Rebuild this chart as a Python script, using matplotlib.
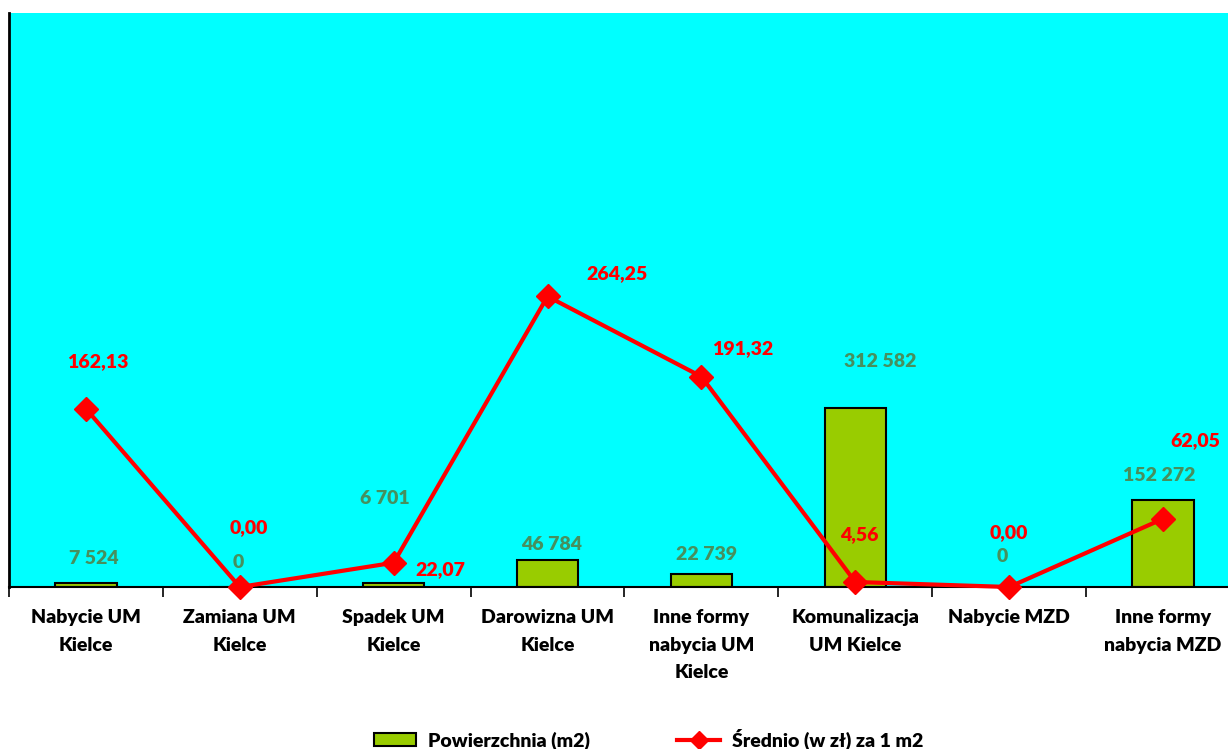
import matplotlib
matplotlib.use("Agg")
import matplotlib.pyplot as plt
from matplotlib.lines import Line2D
from matplotlib.patches import Patch

plt.rcParams['font.family'] = ['Lato', 'DejaVu Sans']
plt.rcParams['font.weight'] = 'bold'

categories = ["Nabycie UM\nKielce", "Zamiana UM\nKielce", "Spadek UM\nKielce",
              "Darowizna UM\nKielce", "Inne formy\nnabycia UM\nKielce",
              "Komunalizacja\nUM Kielce", "Nabycie MZD", "Inne formy\nnabycia MZD"]
area = [7524, 0, 6701, 46784, 22739, 312582, 0, 152272]
area_labels = ["7 524", "0", "6 701", "46 784", "22 739", "312 582", "0", "152 272"]
price = [162.13, 0.00, 22.07, 264.25, 191.32, 4.56, 0.00, 62.05]
price_labels = ["162,13", "0,00", "22,07", "264,25", "191,32", "4,56", "0,00", "62,05"]

# label offsets in pixels (dx, dy up)
area_off = [(8, 24), (-2, 24), (-9, 85), (4, 16), (5, 19), (25, 46), (-7, 31), (-4, 24)]
price_off = [(12, 47), (9, 59), (47, -7), (69, 23), (41, 28), (4, 47), (0, 54), (32, 78)]

green_txt = "#46905e"
W = "heavy"
x = list(range(len(categories)))

fig = plt.figure(figsize=(12.28, 7.49), dpi=100)
ax = fig.add_axes([9/1228, 162/749, 1231/1228, 574/749])
ax.set_facecolor("#00ffff")
ax.bar(x, area, width=0.40, color="#99cc00", edgecolor="black", linewidth=1.5, zorder=2)
ax.set_xlim(-0.5, len(categories) - 0.5)
ax.set_ylim(0, 1000000)
ax.set_yticks([])
for s in ["top", "right"]:
    ax.spines[s].set_visible(False)
ax.spines["left"].set_linewidth(2)
ax.spines["bottom"].set_linewidth(1.5)

ax.set_xticks([i - 0.5 for i in range(len(categories) + 1)])
ax.set_xticklabels([])
ax.tick_params(axis="x", which="major", length=7, width=1.2, direction="out")
ax.set_xticks(x, minor=True)
ax.set_xticklabels(categories, minor=True, fontsize=14, fontweight=W, linespacing=1.75)
ax.tick_params(axis="x", which="minor", length=0, pad=16)

for i, (v, t) in enumerate(zip(area, area_labels)):
    ax.annotate(t, (i, v), xytext=area_off[i], textcoords="offset pixels",
                ha="center", va="center", color=green_txt, fontsize=14, fontweight=W)

ax2 = ax.twinx()
ax2.set_ylim(0, 522)
ax2.set_yticks([])
for s in ["top", "right", "left", "bottom"]:
    ax2.spines[s].set_visible(False)
ax2.plot(x, price, color="red", linewidth=3, marker="D", markersize=12, zorder=3, clip_on=False)
for i, (v, t) in enumerate(zip(price, price_labels)):
    ax2.annotate(t, (i, v), xytext=price_off[i], textcoords="offset pixels",
                 ha="center", va="center", color="red", fontsize=14, fontweight=W)

handles = [Patch(facecolor="#99cc00", edgecolor="black", linewidth=1.5),
           Line2D([0], [0], color="red", linewidth=3, marker="D", markersize=9)]
fig.legend(handles, ["Powierzchnia (m2)", "Średnio (w zł) za 1 m2"], loc="center",
           bbox_to_anchor=(0.528, 10/749), ncol=2, frameon=False,
           handlelength=2.2, handletextpad=0.6, columnspacing=4.5,
           prop={'weight': W, 'size': 14})

fig.savefig("out.png", dpi=100)
